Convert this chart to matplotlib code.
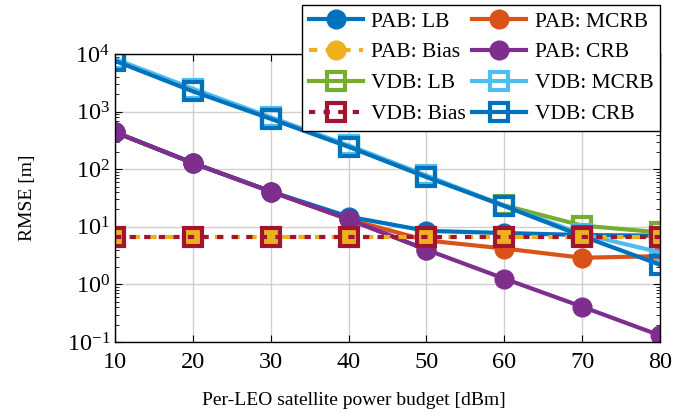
import numpy as np
import matplotlib.pyplot as plt

plt.rcParams['font.family'] = 'serif'
plt.rcParams['font.serif'] = ['Liberation Serif', 'DejaVu Serif']
plt.rcParams['mathtext.fontset'] = 'stix'
plt.rcParams['font.size'] = 15

# Per-LEO power budget [dBm]
power = [10, 20, 30, 40, 50, 60, 70, 80]

# RMSE [m]
pab_lb = [440, 128, 41, 15, 8.5, 7.8, 7.2, 7.0]
pab_bias = [6.6, 6.6, 6.6, 6.6, 6.6, 6.6, 6.6, 6.6]
vdb_lb = [7800, 2350, 770, 250, 75, 23.5, 10.5, 8.0]
vdb_bias = [6.6, 6.6, 6.6, 6.6, 6.6, 6.6, 6.6, 6.6]
pab_mcrb = [440, 128, 41, 13.5, 5.8, 4.2, 2.9, 3.1]
pab_crb = [440, 128, 41, 13.5, 4.0, 1.26, 0.41, 0.13]
vdb_mcrb = [8200, 2500, 800, 260, 78, 23, 7.5, 3.6]
vdb_crb = [7600, 2250, 750, 245, 73, 23, 6.9, 2.2]

blue = '#0072BD'
orange = '#D95319'
yellow = '#EDB120'
purple = '#7E2F8E'
green = '#77AC30'
lblue = '#4DBEEE'
dred = '#A2142F'

fig = plt.figure(figsize=(6.94, 4.2), dpi=100)
ax = fig.add_axes([115 / 694, 1 - 342 / 420, 545 / 694, 288 / 420])

lw = 3
circ = dict(marker='o', markersize=13.5)
sq = dict(marker='s', markersize=13, markerfacecolor='none', markeredgewidth=3)

h_pab_crb, = ax.plot(power, pab_crb, color=purple, lw=lw, label='PAB: CRB', **circ)
h_pab_mcrb, = ax.plot(power, pab_mcrb, color=orange, lw=lw, label='PAB: MCRB', **circ)
h_pab_lb, = ax.plot(power, pab_lb, color=blue, lw=lw, label='PAB: LB', **circ)
ax.plot(power, pab_crb[:5] + [None] * 3, color=purple, lw=lw, **circ)
h_vdb_lb, = ax.plot(power, vdb_lb, color=green, lw=lw, label='VDB: LB', **sq)
h_vdb_mcrb, = ax.plot(power, vdb_mcrb, color=lblue, lw=lw, label='VDB: MCRB', **sq)
h_vdb_crb, = ax.plot(power, vdb_crb, color=blue, lw=lw, label='VDB: CRB', **sq)
h_pab_bias, = ax.plot(power, pab_bias, color=yellow, lw=lw, ls=(0, (2, 2)),
                      label='PAB: Bias', **circ)
h_vdb_bias, = ax.plot(power, vdb_bias, color=dred, lw=lw, ls=(0, (1.5, 2)),
                      label='VDB: Bias', **sq)

ax.set_yscale('log')
ax.set_xlim(10, 80)
ax.set_ylim(1e-1, 1e4)
ax.set_xticks(power)
ax.set_yticks([1e-1, 1e0, 1e1, 1e2, 1e3, 1e4])
ax.grid(True, which='major', color='#d0d0d0', lw=1)
ax.tick_params(which='both', direction='in', top=True, right=True, labelsize=17.5)
ax.tick_params(axis='x', pad=7)
ax.tick_params(which='major', length=5)
ax.tick_params(which='minor', length=3)
for s in ax.spines.values():
    s.set_linewidth(1)

ax.set_xlabel('Per-LEO satellite power budget [dBm]', fontsize=14, labelpad=14)
ax.xaxis.label.set_x(0.4385)
ax.set_ylabel('RMSE [m]', fontsize=14, labelpad=22)

handles = [h_pab_lb, h_pab_bias, h_vdb_lb, h_vdb_bias,
           h_pab_mcrb, h_pab_crb, h_vdb_mcrb, h_vdb_crb]
leg = ax.legend(handles=handles, ncol=2, loc='upper right',
                bbox_to_anchor=(1.0, 1.17), fontsize=15.5, frameon=True,
                fancybox=False, edgecolor='black', framealpha=1,
                handlelength=2.5, columnspacing=0.3, handletextpad=0.4,
                labelspacing=0.5, borderpad=0.3, borderaxespad=0)
leg.get_frame().set_linewidth(1)

fig.savefig('out.png', dpi=100)
